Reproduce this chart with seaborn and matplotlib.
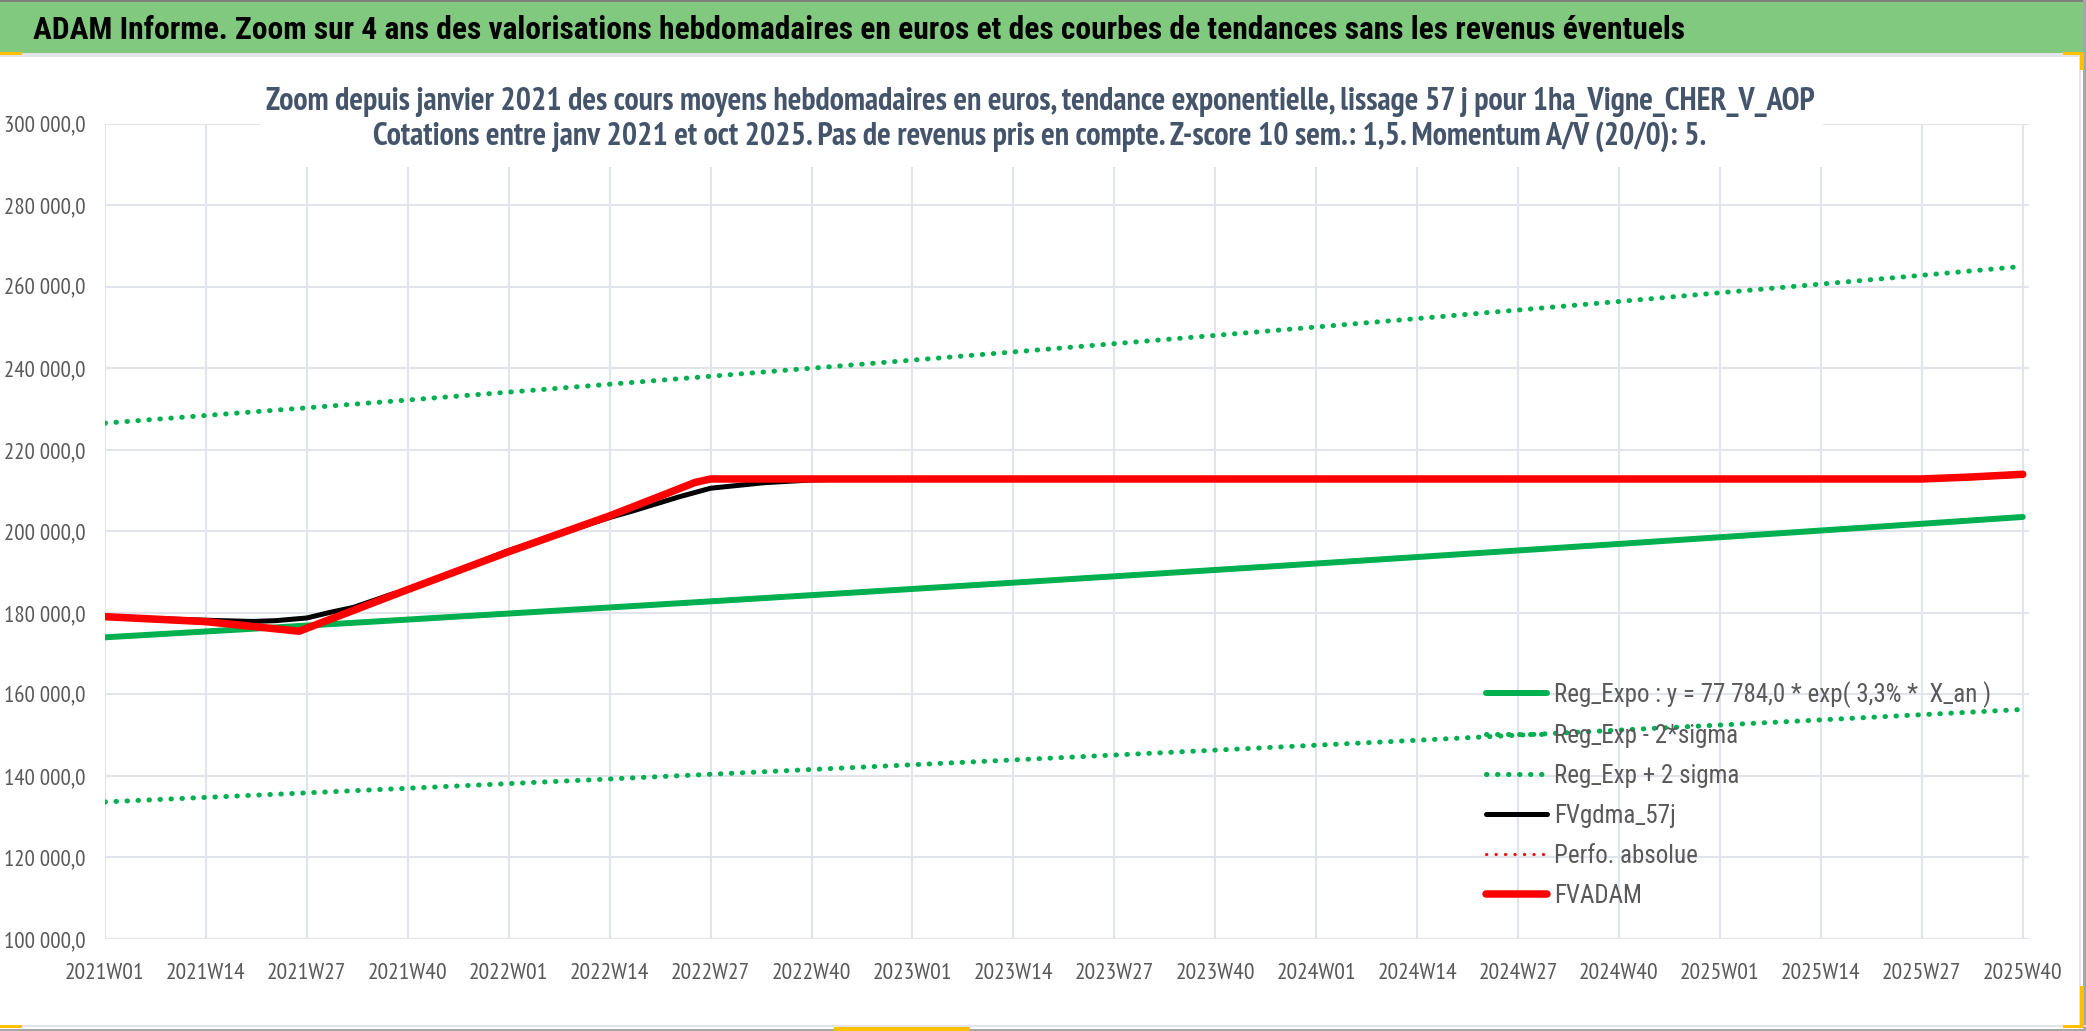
import matplotlib
matplotlib.use("Agg")
import matplotlib.pyplot as plt
from matplotlib.patches import Rectangle
from matplotlib.ticker import FuncFormatter
import seaborn as sns
import pandas as pd

# ---------------- data ----------------
tick_labels = ["2021W01", "2021W14", "2021W27", "2021W40",
               "2022W01", "2022W14", "2022W27", "2022W40",
               "2023W01", "2023W14", "2023W27", "2023W40",
               "2024W01", "2024W14", "2024W27", "2024W40",
               "2025W01", "2025W14", "2025W27", "2025W40"]
tick_weeks = [0, 13, 26, 39, 52, 65, 78, 91, 104, 117, 130, 143,
              156, 169, 182, 195, 208, 221, 234, 247]

reg_expo = [174000, 175440, 176890, 178360, 179840, 181330, 182830, 184350,
            185870, 187410, 188970, 190530, 192110, 193700, 195310, 196920,
            198560, 200200, 201860, 203530]
reg_minus = [133630, 134740, 135850, 136980, 138120, 139260, 140410, 141580,
             142750, 143930, 145130, 146330, 147540, 148760, 150000, 151240,
             152490, 153750, 155030, 156310]
reg_plus = [226550, 228430, 230310, 232220, 234150, 236090, 238050, 240020,
            242000, 244010, 246040, 248070, 250130, 252200, 254290, 256390,
            258530, 260660, 262820, 265000]

fvadam_weeks = [0, 13, 25, 38, 52, 65, 72, 76, 78, 234, 240, 247]
fvadam = [179070, 177850, 175500, 185000, 195000, 203800, 209000, 212000,
          212850, 212850, 213300, 214000]

fvgdma_weeks = [0, 8, 15, 19, 22, 26, 29, 32, 37, 39, 52, 65, 68, 74, 78,
                85, 91, 97, 236, 247]
fvgdma = [179070, 178500, 178090, 177900, 178090, 178750, 180130, 181350,
          184620, 185600, 195300, 203400, 205020, 208500, 210580, 211950,
          212600, 212850, 212850, 213800]

perfo_weeks = fvadam_weeks
perfo = fvadam

labels = ["Reg_Expo : y = 77 784,0 * exp( 3,3% *  X_an )",
          "Reg_Exp - 2*sigma", "Reg_Exp + 2 sigma", "FVgdma_57j",
          "Perfo. absolue", "FVADAM"]

title_text = ("ADAM Informe. Zoom sur 4 ans des valorisations hebdomadaires en euros "
              "et des courbes de tendances sans les revenus éventuels")
sub1 = ("Zoom depuis janvier 2021 des cours moyens hebdomadaires en euros, tendance "
        "exponentielle, lissage 57 j pour 1ha_Vigne_CHER_V_AOP")
sub2 = ("Cotations entre janv 2021 et oct 2025. Pas de revenus pris en compte. "
        "Z-score 10 sem.: 1,5. Momentum A/V (20/0): 5.")

# ---------------- style ----------------
sns.set_theme(style="white")
NARROW = ["PT Sans Narrow", "Roboto Condensed", "Carlito", "DejaVu Sans"]
COND = ["Roboto Condensed", "PT Sans Narrow", "Carlito", "DejaVu Sans"]
plt.rcParams["font.family"] = NARROW

W, H = 2086, 1031
fig = plt.figure(figsize=(W / 100, H / 100), dpi=100)
fig.patch.set_facecolor("white")

def fx(x):
    return x / W

def fy(y):
    return 1 - y / H

# axes
L, R, T, B = 105, 2029, 123.7, 939
ax = fig.add_axes([fx(L), fy(B), (R - L) / W, (B - T) / H])
ax.set_facecolor("white")

green = "#00B050"
dot_style = (0, (0.1, 2.1))

df_t = pd.DataFrame({"week": tick_weeks, "reg": reg_expo,
                     "lo": reg_minus, "hi": reg_plus})
sns.lineplot(data=df_t, x="week", y="reg", ax=ax, color=green, linewidth=4.3,
             label=labels[0], solid_capstyle="round")
sns.lineplot(data=df_t, x="week", y="lo", ax=ax, color=green, linewidth=3.6,
             linestyle=dot_style, dash_capstyle="round", label=labels[1])
sns.lineplot(data=df_t, x="week", y="hi", ax=ax, color=green, linewidth=3.6,
             linestyle=dot_style, dash_capstyle="round", label=labels[2])
sns.lineplot(x=fvgdma_weeks, y=fvgdma, ax=ax, color="black", linewidth=3.6,
             label=labels[3], solid_capstyle="round")
sns.lineplot(x=perfo_weeks, y=perfo, ax=ax, color="#FF0000", linewidth=2.2,
             linestyle=(0, (0.1, 3.0)), dash_capstyle="round", label=labels[4])
sns.lineplot(x=fvadam_weeks, y=fvadam, ax=ax, color="#FF0000", linewidth=5.4,
             label=labels[5], solid_capstyle="round", solid_joinstyle="round")

ax.set_xlim(0, 247.8)
ax.set_ylim(100000, 300000)
ax.set_yticks(range(100000, 300001, 20000))
ax.yaxis.set_major_formatter(FuncFormatter(
    lambda v, p: f"{v:,.1f}".replace(",", " ").replace(".", ",")))
ax.set_xticks(tick_weeks)
ax.set_xticklabels(tick_labels)
ax.set_xlabel("")
ax.set_ylabel("")
for s in ax.spines.values():
    s.set_visible(False)
grid_c = "#E1E4EA"
ax.grid(True, color=grid_c, linewidth=1.5)
ax.set_axisbelow(True)
ax.tick_params(axis="y", length=0, pad=14, labelsize=16.5, labelcolor="#595959")
ax.tick_params(axis="x", length=5, width=1.5, color=grid_c, direction="out",
               pad=12, labelsize=17, labelcolor="#595959")

handles, labs = ax.get_legend_handles_labels()
leg = ax.legend(handles, labs, loc="upper left",
                bbox_to_anchor=(fx(1486), fy(681)), bbox_transform=fig.transFigure,
                frameon=False, prop={"family": COND, "size": 18},
                handlelength=2.45, handletextpad=0.28,
                labelspacing=0.64, borderpad=0, borderaxespad=0)
for t in leg.get_texts():
    t.set_color("#595959")

# banner and decorations
fig.patches.append(Rectangle((0, fy(53)), 1, 53 / H, transform=fig.transFigure,
                             facecolor="#80C97F", edgecolor="none", zorder=1))
fig.patches.append(Rectangle((0, fy(56.5)), 1, 3 / H, transform=fig.transFigure,
                             facecolor="#E3E5E8", edgecolor="none", zorder=1))
fig.patches.append(Rectangle((0, fy(2)), 1, 2 / H, transform=fig.transFigure,
                             facecolor="#7F7F7F", edgecolor="none", zorder=1))
fig.patches.append(Rectangle((fx(2079), 0), 2 / W, fy(57), transform=fig.transFigure,
                             facecolor="#E3E5E8", edgecolor="none", zorder=1))
fig.patches.append(Rectangle((fx(2083), 0), 3 / W, 1, transform=fig.transFigure,
                             facecolor="#A6A6A6", edgecolor="none", zorder=1))
fig.patches.append(Rectangle((0, fy(1027)), 1, 2 / H, transform=fig.transFigure,
                             facecolor="#E3E5E8", edgecolor="none", zorder=1))
fig.patches.append(Rectangle((0, 0), 1, 2 / H, transform=fig.transFigure,
                             facecolor="#A6A6A6", edgecolor="none", zorder=1))
# yellow selection handles
for (x0, y0, w, h) in [(0, 52, 22, 3), (2063, 52, 20, 3), (2080, 52, 4, 18),
                       (0, 1025, 22, 3), (834, 1027, 136, 4), (2080, 986, 4, 42),
                       (2063, 1025, 20, 3)]:
    fig.patches.append(Rectangle((fx(x0), fy(y0 + h)), w / W, h / H,
                                 transform=fig.transFigure, facecolor="#FFC000",
                                 edgecolor="none", zorder=2))
# white title box hiding gridlines
fig.patches.append(Rectangle((fx(260), fy(167)), (1823 - 260) / W, (167 - 60) / H,
                             transform=fig.transFigure, facecolor="white",
                             edgecolor="none", zorder=1))

fig.text(fx(33), fy(39), title_text, fontsize=22.7, fontweight="bold",
         family=COND, color="black", ha="left", va="baseline", zorder=3)
fig.text(fx(1040), fy(110), sub1, fontsize=23, fontweight="bold",
         color="#44546A", ha="center", va="baseline", zorder=3)
fig.text(fx(1040), fy(145), sub2, fontsize=23, fontweight="bold",
         color="#44546A", ha="center", va="baseline", zorder=3)

fig.savefig("out.png", dpi=100, facecolor="white")
